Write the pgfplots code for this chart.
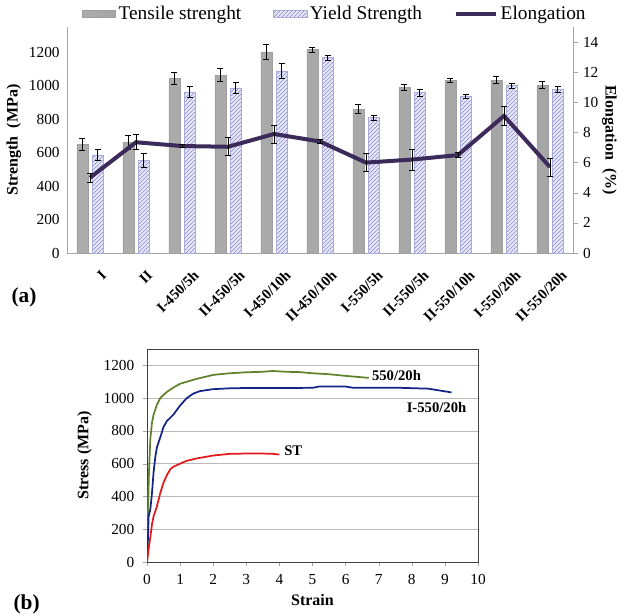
\documentclass[border=0pt]{standalone}
\usepackage{fontspec}
\setmainfont{Liberation Serif}
\usepackage{pgfplots}
\pgfplotsset{compat=1.18}
\usetikzlibrary{patterns}
\definecolor{elong}{RGB}{60,42,90}
\definecolor{hatch}{RGB}{135,135,205}
\definecolor{hatchbg}{RGB}{232,232,248}
\definecolor{sgreen}{RGB}{95,130,45}
\definecolor{sblue}{RGB}{20,35,135}
\definecolor{sred}{RGB}{225,25,25}

\pgfplotsset{
  barleg/.style={legend image code/.code={\draw[##1] (0pt,-2.5pt) rectangle (25pt,2.5pt);}},
}

\begin{document}
\begin{tikzpicture}
\useasboundingbox (0pt,0pt) rectangle (471pt,461.25pt);

% ---------- (a) strength and elongation ----------
\begin{axis}[
  at={(50.25pt,271.5pt)}, anchor=south west,
  scale only axis, width=379.5pt, height=169.5pt,
  xmin=-0.5, xmax=10.5, ymin=0, ymax=1350,
  axis x line*=bottom, axis y line*=left,
  axis line style={gray!70}, 
  ytick={0,200,...,1200}, ytick style={draw=none},
  xtick={0,...,10}, xtick style={draw=none},
  xticklabels={I,II,I-450/5h,II-450/5h,I-450/10h,II-450/10h,I-550/5h,II-550/5h,II-550/10h,I-550/20h,II-550/20h},
  xticklabel style={rotate=45, anchor=north east, font=\fontsize{11}{12}\selectfont\bfseries, inner sep=0pt, yshift=-11pt},
  yticklabel style={font=\fontsize{11.5}{13}\selectfont, xshift=-2pt},
  /pgf/number format/assume math mode=true,
  /pgf/number format/1000 sep={},
  ylabel={\textbf{Strength\ \ (MPa)}}, ylabel style={font=\fontsize{12}{14}\selectfont, yshift=-1pt},
  ybar, bar width=8.25pt,
  legend style={draw=none, fill=none, at={(0.53,1.0)}, anchor=south, legend columns=3,
    font=\fontsize{14.5}{16}\selectfont, /tikz/every even column/.append style={column sep=22pt}},
  error bars/y dir=both, error bars/y explicit,
  error bars/error bar style={black, line width=0.6pt},
  error bars/error mark options={rotate=90, mark size=2.4pt, black, line width=0.6pt},
]
\addplot[barleg, bar shift=-5.8pt, draw=gray!75, left color=gray!65, middle color=gray!22, right color=gray!70]
  coordinates {(0,650) +- (0,35) (1,660) +- (0,40) (2,1045) +- (0,35) (3,1063) +- (0,38)
    (4,1202) +- (0,45) (5,1216) +- (0,15) (6,860) +- (0,25) (7,990) +- (0,20)
    (8,1032) +- (0,12) (9,1033) +- (0,20) (10,1003) +- (0,22)};
\addplot[barleg, bar shift=5.8pt, draw=hatch!70, fill=hatchbg,
  postaction={pattern=north east lines, pattern color=hatch}]
  coordinates {(0,585) +- (0,32) (1,553) +- (0,40) (2,962) +- (0,35) (3,987) +- (0,35)
    (4,1088) +- (0,45) (5,1168) +- (0,15) (6,808) +- (0,15) (7,958) +- (0,20)
    (8,938) +- (0,12) (9,1000) +- (0,16) (10,978) +- (0,20)};
\addlegendimage{legend image code/.code={\draw[elong, line width=3pt] (0pt,0pt) -- (30pt,0pt);}}
\legend{Tensile strenght, Yield Strength, Elongation}
\end{axis}

\begin{axis}[
  at={(50.25pt,271.5pt)}, anchor=south west,
  scale only axis, width=379.5pt, height=169.5pt,
  xmin=-0.5, xmax=10.5, ymin=0, ymax=15,
  axis x line=none, axis y line*=right,
  axis line style={gray!70},
  ytick={0,2,...,14}, tick align=outside, major tick length=4pt, ytick style={gray!70},
  yticklabel style={font=\fontsize{11.5}{13}\selectfont},
  /pgf/number format/assume math mode=true,
  ylabel={\textbf{Elongation\ \ (\%)}}, ylabel style={rotate=180, font=\fontsize{12}{14}\selectfont, yshift=-4pt},
  error bars/y dir=both, error bars/y explicit,
  error bars/error bar style={black, line width=0.6pt},
  error bars/error mark options={rotate=90, mark size=2.4pt, black, line width=0.6pt},
]
\addplot[color=elong, line width=3pt, mark=none]
  coordinates {(0,5.0) +- (0,0.3) (1,7.35) +- (0,0.5) (2,7.1) +- (0,0.12) (3,7.05) +- (0,0.6)
    (4,7.9) +- (0,0.6) (5,7.4) +- (0,0.12) (6,6.0) +- (0,0.6) (7,6.2) +- (0,0.7)
    (8,6.5) +- (0,0.15) (9,9.1) +- (0,0.6) (10,5.7) +- (0,0.6)};
\end{axis}

\node[font=\fontsize{16}{18}\selectfont\bfseries] at (18pt,238pt) {(a)};

% ---------- (b) stress-strain ----------
\begin{axis}[
  at={(110.25pt,39.75pt)}, anchor=south west,
  scale only axis, width=248.25pt, height=159.75pt,
  xmin=0, xmax=10, ymin=0, ymax=1300,
  xtick={0,...,10}, ytick={0,200,...,1200},
  ymajorgrids, grid style={gray!55, line width=0.6pt},
  axis line style={black!75}, tick align=outside, major tick length=3pt,
  tick style={gray!70}, xtick pos=bottom, ytick pos=left,
  ticklabel style={font=\fontsize{11.5}{13}\selectfont},
  xticklabel style={yshift=-3pt}, yticklabel style={xshift=-3pt},
  /pgf/number format/assume math mode=true,
  /pgf/number format/1000 sep={},
  xlabel={\textbf{Strain}}, ylabel={\textbf{Stress (MPa)}},
  label style={font=\fontsize{12}{14}\selectfont},
  xlabel style={yshift=0pt}, ylabel style={yshift=2pt},
  every axis plot/.append style={line width=1.3pt, mark=none},
]
\addplot[sgreen] coordinates {(0,0) (0.02,200) (0.04,400) (0.06,550) (0.1,750) (0.15,850)
  (0.2,900) (0.3,960) (0.4,1000) (0.5,1020) (0.6,1038) (0.8,1065) (1.0,1088) (1.2,1100)
  (1.5,1118) (1.8,1132) (2.0,1142) (2.5,1152) (3.0,1158) (3.5,1161) (3.8,1166) (4.2,1161)
  (4.6,1159) (5.0,1152) (5.5,1146) (6.0,1136) (6.4,1129) (6.7,1124)};
\addplot[sblue] coordinates {(0,0) (0.03,150) (0.05,280) (0.1,320) (0.15,420) (0.2,550)
  (0.25,640) (0.3,700) (0.4,760) (0.5,825) (0.6,860) (0.8,900) (1.0,955) (1.2,1000)
  (1.4,1028) (1.6,1043) (2.0,1055) (2.5,1060) (3,1062) (4,1062) (5,1063) (5.2,1071)
  (6,1071) (6.2,1064) (7.5,1064) (8.5,1058) (8.8,1048) (9.2,1035)};
\addplot[sred] coordinates {(0,0) (0.05,80) (0.1,150) (0.15,230) (0.2,280) (0.3,340)
  (0.4,420) (0.5,485) (0.6,530) (0.7,565) (0.8,582) (1.0,600) (1.2,618) (1.5,632)
  (2.0,650) (2.5,660) (3.0,662) (3.5,662) (3.8,660) (4.0,656)};
\node[anchor=west, font=\fontsize{11}{12}\selectfont\bfseries, inner sep=1pt] at (axis cs:6.75,1140) {550/20h};
\node[anchor=west, font=\fontsize{11}{12}\selectfont\bfseries, inner sep=1pt] at (axis cs:7.8,943) {I-550/20h};
\node[anchor=west, font=\fontsize{11}{12}\selectfont\bfseries, inner sep=1pt] at (axis cs:4.1,679) {ST};
\end{axis}

\node[font=\fontsize{16}{18}\selectfont\bfseries] at (20pt,8pt) {(b)};
\end{tikzpicture}
\end{document}
